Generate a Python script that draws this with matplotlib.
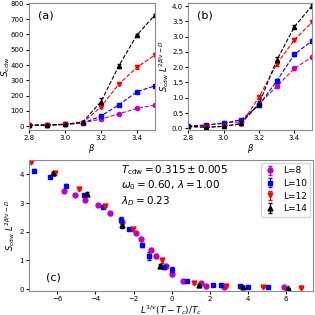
import numpy as np
import matplotlib
matplotlib.use("Agg")
import matplotlib.pyplot as plt

# panel (a)/(b) data
beta = [2.8, 2.9, 3.0, 3.1, 3.2, 3.3, 3.4, 3.5]
sizes = ["L=8", "L=10", "L=12", "L=14"]

s_a = {
    "L=8":  [5, 7, 11, 22, 46, 81, 116, 138],
    "L=10": [5, 8, 12, 20, 66, 140, 225, 264],
    "L=12": [5, 8, 12, 22, 127, 276, 385, 466],
    "L=14": [5, 7, 11, 28, 160, 396, 597, 728],
}
err_a = {
    "L=8":  [1, 1, 1, 2, 3, 4, 5, 6],
    "L=10": [1, 1, 1, 2, 4, 6, 8, 8],
    "L=12": [1, 1, 1, 2, 6, 8, 8, 8],
    "L=14": [1, 1, 1, 3, 22, 12, 8, 8],
}
s_b = {
    "L=8":  [0.06, 0.09, 0.18, 0.21, 0.80, 1.37, 1.96, 2.34],
    "L=10": [0.07, 0.11, 0.16, 0.28, 0.75, 1.55, 2.42, 2.87],
    "L=12": [0.05, 0.05, 0.06, 0.14, 1.02, 2.10, 2.90, 3.48],
    "L=14": [0.06, 0.03, 0.06, 0.16, 0.80, 2.23, 3.33, 4.02],
}
err_b = {
    "L=8":  [0.01, 0.01, 0.02, 0.02, 0.04, 0.05, 0.04, 0.04],
    "L=10": [0.01, 0.01, 0.02, 0.03, 0.05, 0.08, 0.05, 0.04],
    "L=12": [0.01, 0.01, 0.02, 0.02, 0.05, 0.06, 0.04, 0.04],
    "L=14": [0.01, 0.01, 0.02, 0.03, 0.08, 0.10, 0.04, 0.04],
}

# panel (c) collapse data
x_c = {
    "L=8":  [-5.66, -5.10, -4.53, -3.89, -3.25, -2.58, -1.87, -1.60, -1.08,
             -0.82, -0.28, 0.00, 0.58, 1.53, 1.83, 2.75, 5.93],
    "L=10": [-7.26, -6.42, -5.56, -4.63, -3.63, -2.65, -2.24, -1.54, -1.16,
             -0.38, 0.00, 0.84, 2.18, 2.60, 3.58, 4.02, 5.09],
    "L=12": [-7.40, -6.14, -4.89, -3.51, -2.04, -0.51, 1.16, 2.88, 4.79, 6.81],
    "L=14": [-6.26, -4.45, -2.63, -0.63, 1.47, 3.74, 6.13],
}
y_c = {
    "L=8":  [3.43, 3.29, 3.11, 2.94, 2.64, 2.35, 1.96, 1.75, 1.37,
             1.15, 0.80, 0.52, 0.29, 0.20, 0.10, 0.08, 0.07],
    "L=10": [4.13, 3.91, 3.60, 3.28, 2.87, 2.42, 2.09, 1.54, 1.15,
             0.76, 0.68, 0.29, 0.15, 0.13, 0.10, 0.07, 0.07],
    "L=12": [4.42, 4.03, 3.49, 2.91, 2.09, 1.00, 0.20, 0.09, 0.07, 0.05],
    "L=14": [4.03, 3.32, 2.23, 0.80, 0.14, 0.07, 0.04],
}
e_c = {
    "L=8":  [0.04, 0.04, 0.04, 0.04, 0.04, 0.05, 0.04, 0.05, 0.05,
             0.06, 0.05, 0.06, 0.03, 0.03, 0.02, 0.02, 0.01],
    "L=10": [0.04, 0.04, 0.05, 0.04, 0.04, 0.08, 0.04, 0.08, 0.15,
             0.05, 0.09, 0.03, 0.02, 0.02, 0.02, 0.01, 0.01],
    "L=12": [0.04, 0.04, 0.04, 0.06, 0.05, 0.08, 0.03, 0.02, 0.01, 0.01],
    "L=14": [0.04, 0.05, 0.10, 0.06, 0.03, 0.02, 0.01],
}

colors = {"L=8": "m", "L=10": "b", "L=12": "r", "L=14": "k"}
markers = {"L=8": "o", "L=10": "s", "L=12": "v", "L=14": "^"}

plt.rcParams['font.size'] = 6
plt.rcParams['axes.edgecolor'] = '0.55'
plt.rcParams['xtick.labelsize'] = 5
plt.rcParams['ytick.labelsize'] = 5
plt.rcParams['xtick.major.size'] = 2
plt.rcParams['ytick.major.size'] = 2
plt.rcParams['xtick.major.pad'] = 1.5
plt.rcParams['ytick.major.pad'] = 1.5

fig = plt.figure(figsize=(3.15, 3.15), dpi=100)
ax_a = fig.add_axes([0.092, 0.587, 0.400, 0.403])
ax_b = fig.add_axes([0.597, 0.587, 0.394, 0.403])
ax_c = fig.add_axes([0.092, 0.076, 0.902, 0.416])

for L in sizes:
    ax_a.errorbar(beta, s_a[L], yerr=err_a[L], color=colors[L], marker=markers[L],
                  ms=3, ls='--', lw=0.8, capsize=1.5, elinewidth=0.8)
    ax_b.errorbar(beta, s_b[L], yerr=err_b[L], color=colors[L], marker=markers[L],
                  ms=3, ls='--', lw=0.8, capsize=1.5, elinewidth=0.8)

ax_a.set_xlim(2.8, 3.5)
ax_a.set_ylim(-26, 805)
ax_a.set_xticks([2.8, 3.0, 3.2, 3.4])
ax_a.set_yticks(range(0, 801, 100))
ax_a.set_xlabel(r'$\beta$', fontsize=6, labelpad=1)
ax_a.set_ylabel(r'$S_{\rm cdw}$', fontsize=6.5)
ax_a.yaxis.set_label_coords(-0.135, 0.5)
ax_a.text(0.07, 0.9, '(a)', transform=ax_a.transAxes, fontsize=8, va='center')

ax_b.set_xlim(2.8, 3.5)
ax_b.set_ylim(-0.06, 4.1)
ax_b.set_xticks([2.8, 3.0, 3.2, 3.4])
ax_b.set_yticks(np.arange(0, 4.01, 0.5))
ax_b.set_xlabel(r'$\beta$', fontsize=6, labelpad=1)
ax_b.set_ylabel(r'$S_{\rm cdw}\ L^{2\beta/\nu-D}$', fontsize=6, labelpad=0.5)
ax_b.text(0.07, 0.9, '(b)', transform=ax_b.transAxes, fontsize=8, va='center')

for L in sizes:
    ax_c.errorbar(x_c[L], y_c[L], yerr=e_c[L], color=colors[L], marker=markers[L],
                  ms=3.5, ls='none', capsize=1.5, elinewidth=0.8, label=L)

ax_c.set_xlim(-7.5, 7.45)
ax_c.set_ylim(-0.07, 4.5)
ax_c.set_xticks([-6, -4, -2, 0, 2, 4, 6])
ax_c.set_yticks([0, 1, 2, 3, 4])
ax_c.set_xlabel(r'$L^{1/\nu}(T-T_c)/T_c$', fontsize=6.5, labelpad=0.5)
ax_c.set_ylabel(r'$S_{\rm cdw}\ L^{2\beta/\nu-D}$', fontsize=6, labelpad=2)
ax_c.text(0.06, 0.1, '(c)', transform=ax_c.transAxes, fontsize=8, va='center')
ax_c.text(0.324, 0.92, r'$T_{\rm cdw} = 0.315 \pm 0.005$', transform=ax_c.transAxes,
          fontsize=7.5, va='center')
ax_c.text(0.324, 0.807, r'$\omega_0 = 0.60$, $\lambda = 1.00$', transform=ax_c.transAxes,
          fontsize=7.5, va='center')
ax_c.text(0.324, 0.69, r'$\lambda_D = 0.23$', transform=ax_c.transAxes,
          fontsize=7.5, va='center')
ax_c.legend(loc='upper right', fontsize=6.5, handlelength=1.2, borderaxespad=0.3,
            labelspacing=0.4)

fig.savefig('out.png', dpi=100)
